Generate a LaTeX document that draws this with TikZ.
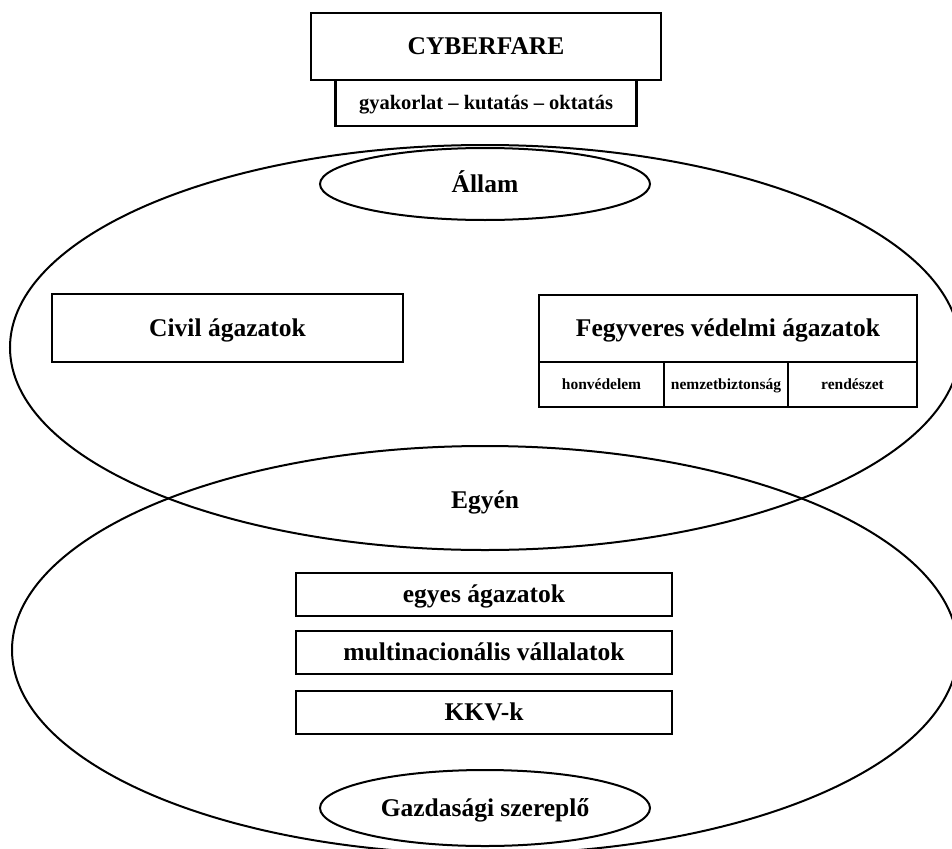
\documentclass[tikz,border=0pt]{standalone}
\usepackage{fontspec}
\setmainfont{Liberation Serif}
\usetikzlibrary{shapes.geometric}
\tikzset{
  box/.style={draw, line width=2.2pt, rectangle, inner sep=0pt, outer sep=0pt, align=center},
  bigtxt/.style={font=\fontsize{25.5}{30}\selectfont\bfseries, text height=18.5pt, text depth=1.8pt},
  midtxt/.style={font=\fontsize{20.5}{24}\selectfont\bfseries, text height=15pt, text depth=1.4pt},
  smalltxt/.style={font=\fontsize{15.5}{18}\selectfont\bfseries, text height=11.5pt, text depth=1.2pt},
  oval/.style={draw, ellipse, line width=2pt, inner sep=0pt, outer sep=0pt},
}
\begin{document}
\begin{tikzpicture}[x=1pt,y=-1pt]
\useasboundingbox (0,0) rectangle (952,848);
\clip (0,0) rectangle (952,848);
% big ellipses
\node[oval, minimum width=950pt, minimum height=405pt] (allamkor) at (485,347.5) {};
\node[oval, minimum width=946pt, minimum height=408pt] (egyenkor) at (485,650) {};
% top
\node[box, bigtxt, minimum width=350pt, minimum height=67pt] (cyber) at (486,46.5) {CYBERFARE};
\node[box, midtxt, minimum width=301pt, minimum height=46pt, anchor=north] (gyak) at (cyber.south) {gyakorlat – kutatás – oktatás};
% Állam
\node[oval, bigtxt, minimum width=330pt, minimum height=72pt] (allam) at (485,184) {Állam};
\node[box, bigtxt, minimum width=351pt, minimum height=68pt] (civil) at (227.5,328) {Civil ágazatok};
\node[box, bigtxt, minimum width=378pt, minimum height=67pt] (fegy) at (728,328.5) {Fegyveres védelmi ágazatok};
\node[box, smalltxt, minimum width=125pt, minimum height=45pt, anchor=north west] (honv) at (fegy.south west) {honvédelem};
\node[box, smalltxt, minimum width=124pt, minimum height=45pt, anchor=north west] (nemz) at (honv.north east) {nemzetbiztonság};
\node[box, smalltxt, minimum width=129pt, minimum height=45pt, anchor=north west] (rend) at (nemz.north east) {rendészet};
% Egyén
\node[bigtxt, inner sep=0pt] (egyen) at (485,500) {Egyén};
\node[box, bigtxt, minimum width=376pt, minimum height=43pt] (egyes) at (484,594.5) {egyes ágazatok};
\node[box, bigtxt, minimum width=376pt, minimum height=43pt] (multi) at (484,652.5) {multinacionális vállalatok};
\node[box, bigtxt, minimum width=376pt, minimum height=43pt] (kkv) at (484,712.5) {KKV-k};
\node[oval, bigtxt, minimum width=330pt, minimum height=76pt] (gazd) at (485,808) {Gazdasági szereplő};
\end{tikzpicture}
\end{document}
